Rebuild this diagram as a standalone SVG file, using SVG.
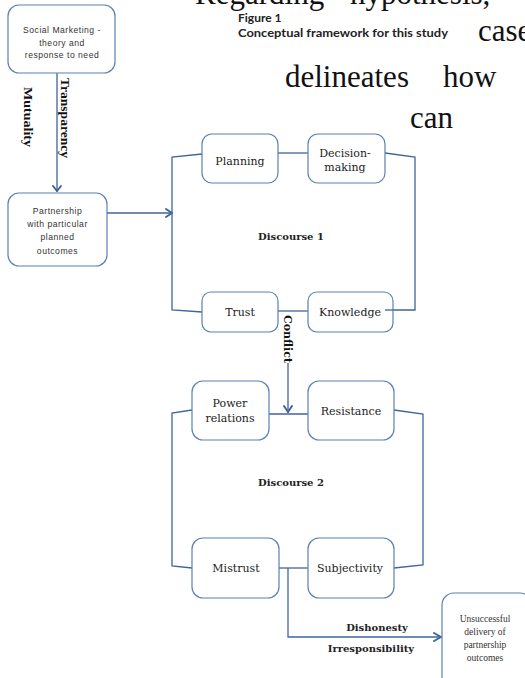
<svg xmlns="http://www.w3.org/2000/svg" width="525" height="678" viewBox="0 0 525 678">
<defs>
<style>
.bg{fill:#ffffff}
.box{fill:#ffffff;stroke:#5b80b4;stroke-width:1.2}
.ln{fill:none;stroke:#3f659a;stroke-width:1.3}
.ah{fill:none;stroke:#3f659a;stroke-width:2;stroke-linecap:round;stroke-linejoin:round}
.big{font-family:"Liberation Serif","Times New Roman",serif;font-size:31px;fill:#111}
.fig{font-family:Lato,"Liberation Sans",sans-serif;font-weight:bold;font-size:12px;fill:#222}
.lbl{font-family:"DejaVu Serif",serif;font-size:11px;fill:#222;text-anchor:middle}
.bold{font-family:"DejaVu Serif",serif;font-weight:bold;font-size:10px;fill:#222;text-anchor:middle}
.small{font-family:"Liberation Sans",Arial,sans-serif;font-size:8.6px;letter-spacing:0.5px;fill:#333;text-anchor:middle}
.tiny{font-family:"Liberation Serif","Times New Roman",serif;font-size:9.5px;fill:#333;text-anchor:middle}
.rot{font-family:"Liberation Serif","Times New Roman",serif;font-weight:bold;font-size:12px;fill:#111}
.rot2{font-family:"DejaVu Serif",serif;font-weight:bold;font-size:11px;fill:#111}
</style>
</defs>
<rect class="bg" x="0" y="0" width="525" height="678"/>

<g id="page-text">
<text class="big" x="195" y="4">Regarding</text>
<text class="big" x="350" y="4">hypothesis,</text>
<text class="big" x="478" y="41">case</text>
<text class="big" x="285" y="87">delineates</text>
<text class="big" x="443" y="87">how</text>
<text class="big" x="410" y="128">can</text>
</g>

<g id="caption">
<text class="fig" x="238" y="22">Figure 1</text>
<text class="fig" x="238" y="37" textLength="210" lengthAdjust="spacingAndGlyphs">Conceptual framework for this study</text>
</g>

<g id="connectors">
<!-- social -> partnership -->
<line class="ln" x1="57" y1="73" x2="57" y2="192"/>
<polyline class="ah" points="53,186 57,191 61,186"/>
<!-- partnership -> discourse 1 -->
<line class="ln" x1="107" y1="213" x2="172" y2="213"/>
<polyline class="ah" points="166,209 172,213 166,217"/>
<!-- discourse 1 frame -->
<polyline class="ln" points="202,154 172,157 172,310 202,312"/>
<polyline class="ln" points="385,153 415,157 415,310 385,310"/>
<line class="ln" x1="278" y1="153" x2="308" y2="153"/>
<line class="ln" x1="278" y1="311" x2="308" y2="311"/>
<!-- conflict -->
<line class="ln" x1="288" y1="363" x2="288" y2="413"/>
<polyline class="ah" points="284,406 288,412 292,406"/>
<!-- discourse 2 frame -->
<polyline class="ln" points="192,410 172,413 172,566 192,568"/>
<polyline class="ln" points="394,410 423,414 423,565 394,568"/>
<line class="ln" x1="269" y1="414" x2="308" y2="414"/>
<line class="ln" x1="279" y1="568" x2="308" y2="568"/>
<!-- mistrust -> unsuccessful -->
<polyline class="ln" points="288,568 288,637 441,637"/>
<polyline class="ah" points="434,633 441,637 434,641"/>
</g>

<g id="edge-labels">
<text class="rot" transform="translate(61,78) rotate(90)" textLength="80" lengthAdjust="spacingAndGlyphs">Transparency</text>
<text class="rot" transform="translate(24,87) rotate(90)" textLength="60" lengthAdjust="spacingAndGlyphs">Mutuality</text>
<text class="rot2" transform="translate(284,315) rotate(90)">Conflict</text>
<text class="bold" x="377" y="631">Dishonesty</text>
<text class="bold" x="371" y="652">Irresponsibility</text>
</g>

<g id="social-marketing">
<rect class="box" x="8" y="5" width="107" height="68" rx="11"/>
<text class="small" x="62" y="33">Social Marketing -</text>
<text class="small" x="62" y="45.5">theory and</text>
<text class="small" x="62" y="58">response to need</text>
</g>

<g id="partnership">
<rect class="box" x="8" y="193" width="99" height="73" rx="11"/>
<text class="small" x="57.5" y="213.5">Partnership</text>
<text class="small" x="57.5" y="226.5">with particular</text>
<text class="small" x="57.5" y="239.5">planned</text>
<text class="small" x="57.5" y="253.5">outcomes</text>
</g>

<g id="discourse1">
<text class="bold" x="291" y="240">Discourse 1</text>
</g>

<g id="planning">
<rect class="box" x="202" y="134" width="76" height="49" rx="10"/>
<text class="lbl" x="240" y="165">Planning</text>
</g>

<g id="decision-making">
<rect class="box" x="308" y="134" width="77" height="49" rx="10"/>
<text class="lbl" x="345" y="157">Decision-</text>
<text class="lbl" x="345" y="171">making</text>
</g>

<g id="trust">
<rect class="box" x="202" y="292" width="76" height="40" rx="9"/>
<text class="lbl" x="240" y="316">Trust</text>
</g>

<g id="knowledge">
<rect class="box" x="308" y="292" width="85" height="40" rx="9"/>
<text class="lbl" x="350" y="316">Knowledge</text>
</g>
<line class="ln" x1="385" y1="310" x2="393" y2="310"/>

<g id="discourse2">
<text class="bold" x="291" y="486">Discourse 2</text>
</g>

<g id="power-relations">
<rect class="box" x="192" y="381" width="77" height="59" rx="11"/>
<text class="lbl" x="230" y="407">Power</text>
<text class="lbl" x="230" y="422">relations</text>
</g>

<g id="resistance">
<rect class="box" x="308" y="381" width="86" height="59" rx="11"/>
<text class="lbl" x="351" y="415">Resistance</text>
</g>

<g id="mistrust">
<rect class="box" x="192" y="538" width="87" height="60" rx="11"/>
<text class="lbl" x="236" y="572">Mistrust</text>
</g>

<g id="subjectivity">
<rect class="box" x="308" y="538" width="86" height="60" rx="11"/>
<text class="lbl" x="350" y="572">Subjectivity</text>
</g>

<g id="unsuccessful">
<rect class="box" x="442" y="593" width="90" height="100" rx="12"/>
<text class="tiny" x="485" y="622">Unsuccessful</text>
<text class="tiny" x="485" y="635">delivery of</text>
<text class="tiny" x="485" y="648">partnership</text>
<text class="tiny" x="485" y="661">outcomes</text>
</g>
</svg>
